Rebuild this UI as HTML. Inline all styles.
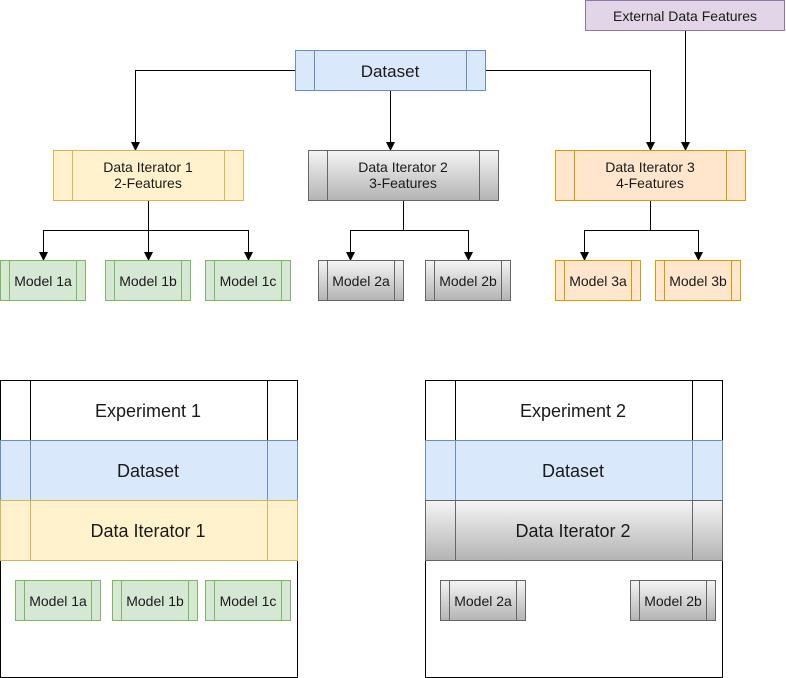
<!DOCTYPE html>
<html><head><meta charset="utf-8"><style>
html,body{margin:0;padding:0;background:#fff;width:786px;height:678px;overflow:hidden}
svg{display:block}
text{font-family:"Liberation Sans",Arial,sans-serif;fill:#1a1a1a;text-anchor:middle}
</style></head><body>
<svg width="786" height="678" viewBox="0 0 786 678" xmlns="http://www.w3.org/2000/svg">
<defs>
<linearGradient id="g" x1="0" y1="0" x2="0" y2="1"><stop offset="0" stop-color="#f5f5f5"/><stop offset="1" stop-color="#b3b3b3"/></linearGradient>
<marker id="a" markerWidth="8" markerHeight="8" refX="4" refY="7" orient="auto" markerUnits="userSpaceOnUse"><path d="M0,0 L4,7 L8,0 L4,2 Z" fill="#000" transform="rotate(-90 4 4) rotate(90 4 4)"/></marker>
</defs>
<g fill="none" stroke="#000" stroke-width="1">
<path d="M295.5 70.5H135.5V142"/>
<path d="M390.5 90V142"/>
<path d="M485 70.5H650.5V142"/>
<path d="M685.5 30V142"/>
<path d="M148.5 200V230.5H43.5V252 M148.5 230V252 M148.5 230.5H248.5V252"/>
<path d="M403.5 200V230.5H350.5V252 M403.5 230.5H468.5V252"/>
<path d="M650.5 200V230.5H584.5V252 M650.5 230.5H698.5V252"/>
</g>
<g fill="#000">
<path d="M131 142h9l-4.5 9z"/><path d="M386 142h9l-4.5 9z"/><path d="M646 142h9l-4.5 9z"/><path d="M681 142h9l-4.5 9z"/>
<path d="M39 252h9l-4.5 9z"/><path d="M144 252h9l-4.5 9z"/><path d="M244 252h9l-4.5 9z"/>
<path d="M346 252h9l-4.5 9z"/><path d="M464 252h9l-4.5 9z"/>
<path d="M580 252h9l-4.5 9z"/><path d="M694 252h9l-4.5 9z"/>
</g>
<!-- external -->
<rect x="585.5" y="0.5" width="199" height="30" fill="#e1d5e7" stroke="#9673a6"/>
<text x="685" y="21" font-size="14">External Data Features</text>
<!-- dataset -->
<g stroke="#6c8ebf"><rect x="295.5" y="50.5" width="190" height="40" fill="#dae8fc"/><path d="M314.5 50.5V90.5M466.5 50.5V90.5"/></g>
<text x="390" y="77" font-size="17">Dataset</text>
<!-- DIs -->
<g stroke="#d6b656"><rect x="53.5" y="150.5" width="190" height="50" fill="#fff2cc"/><path d="M72.5 150.5V200.5M224.5 150.5V200.5"/></g>
<text x="148" y="172" font-size="14">Data Iterator 1</text><text x="148" y="188" font-size="14">2-Features</text>
<g stroke="#666"><rect x="308.5" y="150.5" width="190" height="50" fill="url(#g)"/><path d="M327.5 150.5V200.5M479.5 150.5V200.5"/></g>
<text x="403" y="172" font-size="14">Data Iterator 2</text><text x="403" y="188" font-size="14">3-Features</text>
<g stroke="#d79b00"><rect x="555.5" y="150.5" width="190" height="50" fill="#ffe6cc"/><path d="M574.5 150.5V200.5M726.5 150.5V200.5"/></g>
<text x="650" y="172" font-size="14">Data Iterator 3</text><text x="650" y="188" font-size="14">4-Features</text>
<!-- models top -->
<g stroke="#82b366" fill="#d5e8d4">
<rect x="0.5" y="260.5" width="85" height="40"/><path d="M9.5 260.5V300.5M76.5 260.5V300.5"/>
<rect x="105.5" y="260.5" width="85" height="40"/><path d="M114.5 260.5V300.5M181.5 260.5V300.5"/>
<rect x="205.5" y="260.5" width="85" height="40"/><path d="M214.5 260.5V300.5M281.5 260.5V300.5"/>
</g>
<g stroke="#666" fill="url(#g)">
<rect x="318.5" y="260.5" width="85" height="40"/><path d="M327.5 260.5V300.5M394.5 260.5V300.5"/>
<rect x="425.5" y="260.5" width="85" height="40"/><path d="M434.5 260.5V300.5M501.5 260.5V300.5"/>
</g>
<g stroke="#d79b00" fill="#ffe6cc">
<rect x="555.5" y="260.5" width="85" height="40"/><path d="M564.5 260.5V300.5M631.5 260.5V300.5"/>
<rect x="655.5" y="260.5" width="85" height="40"/><path d="M664.5 260.5V300.5M731.5 260.5V300.5"/>
</g>
<g font-size="14">
<text x="43" y="286">Model 1a</text><text x="148" y="286">Model 1b</text><text x="248" y="286">Model 1c</text>
<text x="361" y="286">Model 2a</text><text x="468" y="286">Model 2b</text>
<text x="598" y="286">Model 3a</text><text x="698" y="286">Model 3b</text>
</g>
<!-- Experiment 1 -->
<rect x="0.5" y="380.5" width="297" height="297" fill="#fff" stroke="#000"/>
<path d="M30.5 380.5V440.5M267.5 380.5V440.5" stroke="#000"/>
<g stroke="#6c8ebf"><rect x="0.5" y="440.5" width="297" height="60" fill="#dae8fc"/><path d="M30.5 440.5V500.5M267.5 440.5V500.5"/></g>
<g stroke="#d6b656"><rect x="0.5" y="500.5" width="297" height="60" fill="#fff2cc"/><path d="M30.5 500.5V560.5M267.5 500.5V560.5"/></g>
<text x="148" y="417" font-size="18">Experiment 1</text>
<text x="148" y="477" font-size="18">Dataset</text>
<text x="148" y="537" font-size="18">Data Iterator 1</text>
<g stroke="#82b366" fill="#d5e8d4">
<rect x="15.5" y="580.5" width="85" height="40"/><path d="M24.5 580.5V620.5M91.5 580.5V620.5"/>
<rect x="112.5" y="580.5" width="85" height="40"/><path d="M121.5 580.5V620.5M188.5 580.5V620.5"/>
<rect x="205.5" y="580.5" width="85" height="40"/><path d="M214.5 580.5V620.5M281.5 580.5V620.5"/>
</g>
<g font-size="14"><text x="58" y="606">Model 1a</text><text x="155" y="606">Model 1b</text><text x="248" y="606">Model 1c</text></g>
<!-- Experiment 2 -->
<rect x="425.5" y="380.5" width="297" height="297" fill="#fff" stroke="#000"/>
<path d="M455.5 380.5V440.5M692.5 380.5V440.5" stroke="#000"/>
<g stroke="#6c8ebf"><rect x="425.5" y="440.5" width="297" height="60" fill="#dae8fc"/><path d="M455.5 440.5V500.5M692.5 440.5V500.5"/></g>
<g stroke="#666"><rect x="425.5" y="500.5" width="297" height="60" fill="url(#g)"/><path d="M455.5 500.5V560.5M692.5 500.5V560.5"/></g>
<text x="573" y="417" font-size="18">Experiment 2</text>
<text x="573" y="477" font-size="18">Dataset</text>
<text x="573" y="537" font-size="18">Data Iterator 2</text>
<g stroke="#666" fill="url(#g)">
<rect x="440.5" y="580.5" width="85" height="40"/><path d="M449.5 580.5V620.5M516.5 580.5V620.5"/>
<rect x="630.5" y="580.5" width="85" height="40"/><path d="M639.5 580.5V620.5M706.5 580.5V620.5"/>
</g>
<g font-size="14"><text x="483" y="606">Model 2a</text><text x="673" y="606">Model 2b</text></g>
</svg>
</body></html>
